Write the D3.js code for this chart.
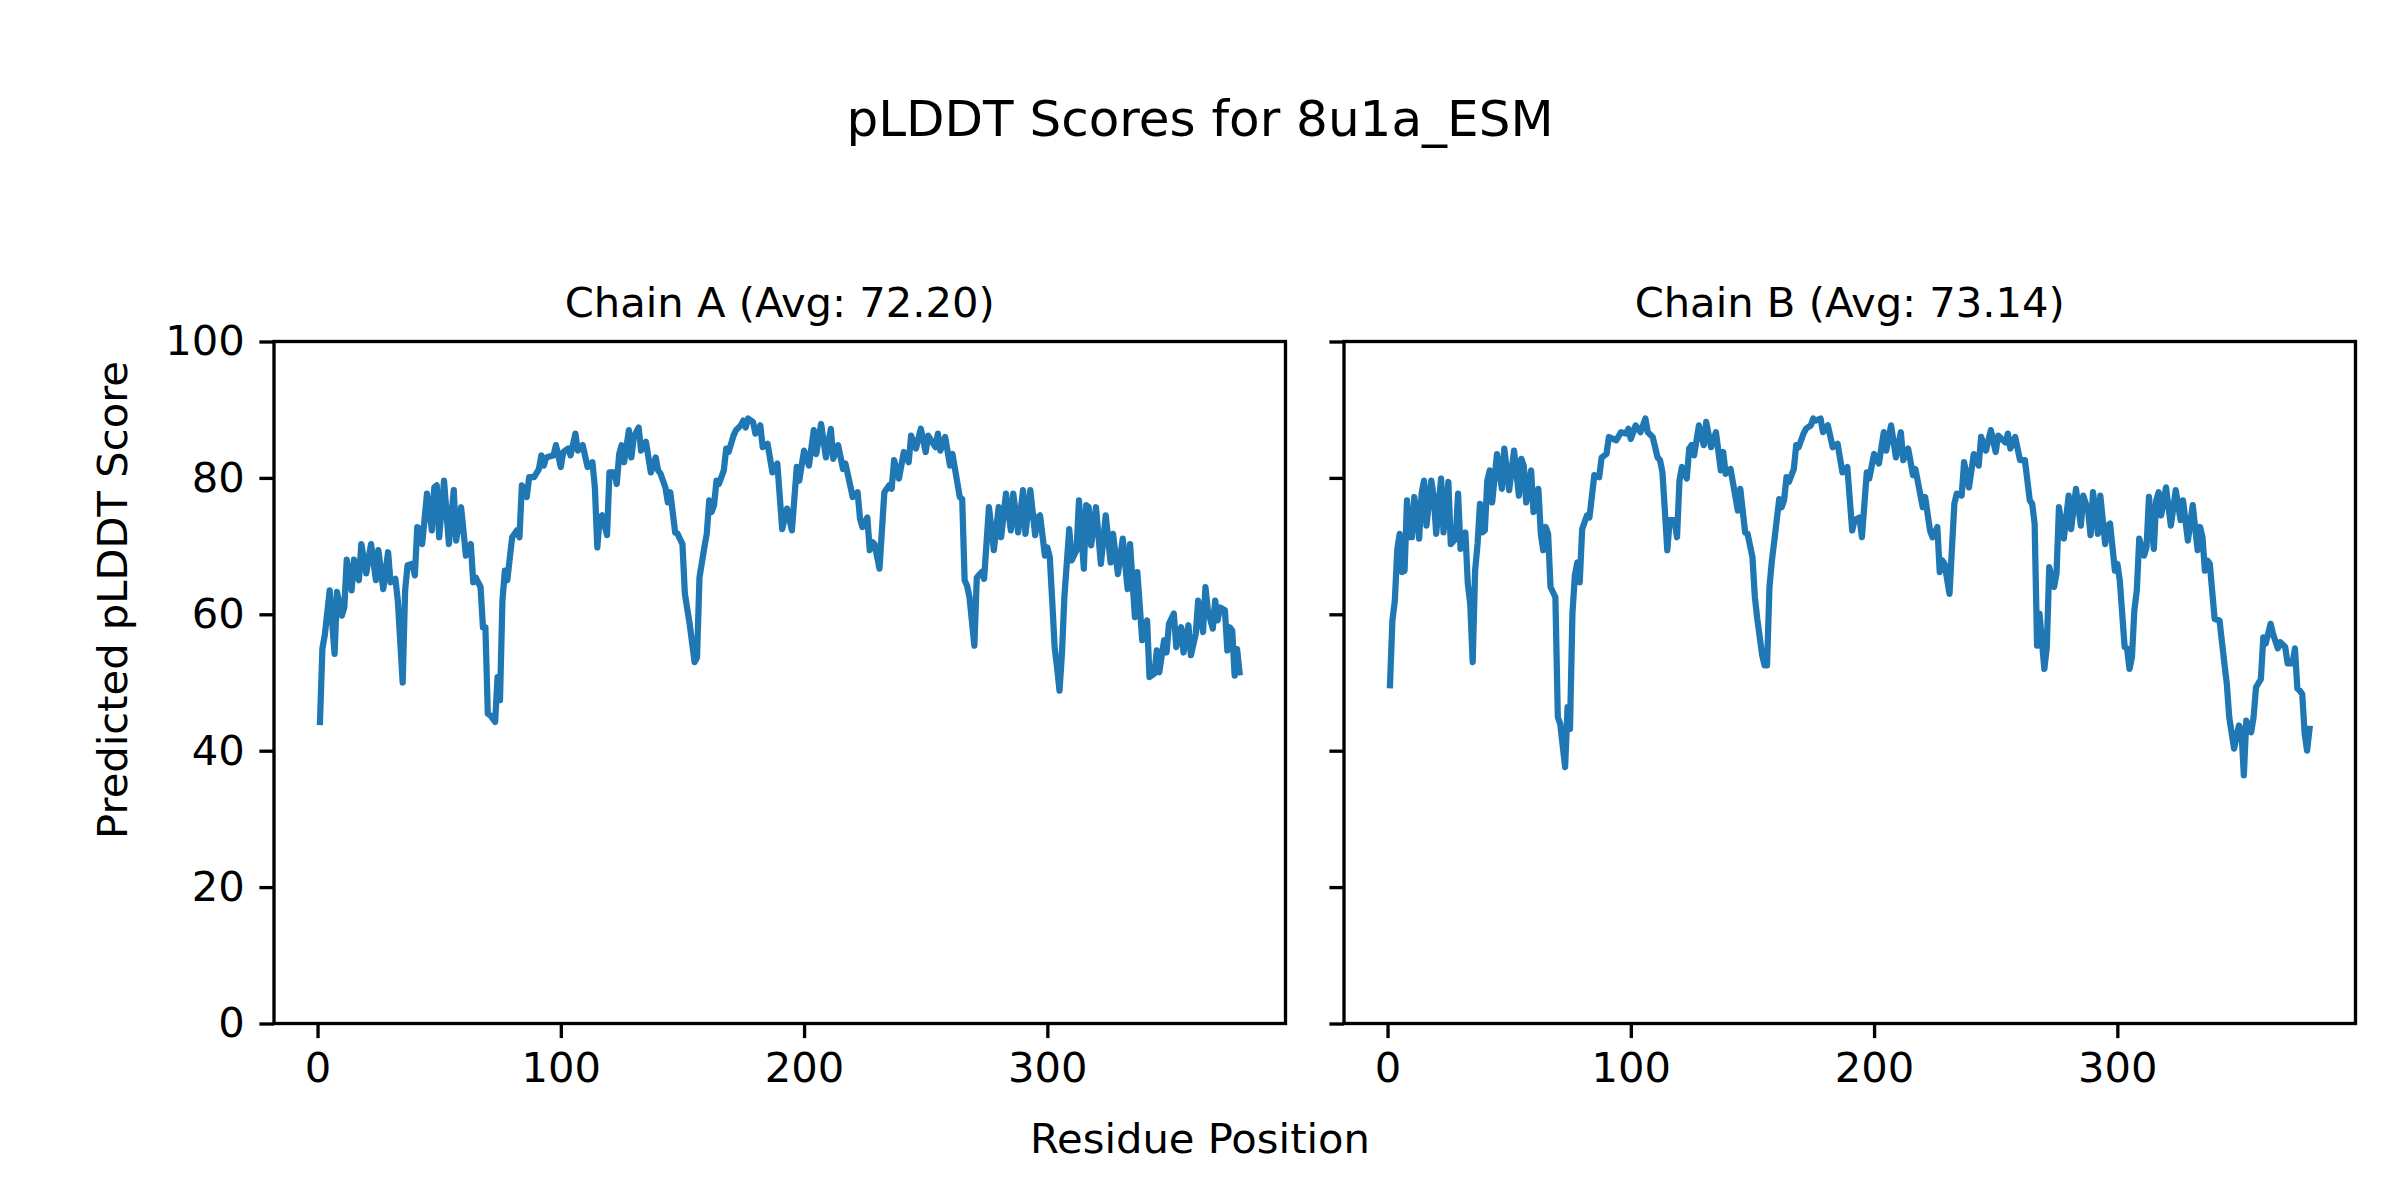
<!DOCTYPE html>
<html>
<head>
<meta charset="utf-8">
<script src="https://cdn.jsdelivr.net/npm/d3@7"></script>
<style>
  html, body { margin: 0; padding: 0; background: #ffffff; }
  svg text { font-family: "DejaVu Sans", sans-serif; fill: #000; }
</style>
</head>
<body>
<svg id="chart" width="2400" height="1200"></svg>
<script>
// ---------------- data ----------------
const figureTitle = "pLDDT Scores for 8u1a_ESM";
const chainNames = ["Chain A", "Chain B"];
const chainAverages = [72.20, 73.14];
const xLabel = "Residue Position";
const yLabel = "Predicted pLDDT Score";
const xTicks = [0, 100, 200, 300];
const yTicks = [0, 20, 40, 60, 80, 100];

// [residue, pLDDT] vertices of chain A trace
const chainA = [
[1,44.2],[2,55.0],[3,57.0],[5,63.5],[7,54.2],[8,63.3],[10,59.8],[11,61.0],[12,68.0],[14,63.5],
[15,68.0],[17,65.0],[18,70.3],[20,66.0],[22,70.3],[24,65.0],[25,69.4],[27,63.7],[29,69.1],[30,64.7],
[32,65.2],[33,62.0],[35,50.0],[36,63.5],[37,67.2],[39,67.4],[40,65.7],[41,72.8],[42,72.5],[43,70.3],
[45,77.7],[47,72.3],[48,78.6],[49,78.9],[50,71.3],[52,79.6],[54,70.3],[56,78.2],[57,70.8],[59,75.7],
[61,68.6],[63,70.3],[64,64.7],[65,65.4],[67,64.0],[68,58.1],[69,58.1],[70,45.4],[71,45.2],[73,44.2],
[74,50.8],[75,47.4],[76,62.0],[77,66.4],[78,65.0],[80,71.3],[82,72.3],[83,71.3],[84,78.9],[86,77.2],
[87,80.1],[89,80.1],[91,81.3],[92,83.3],[93,81.8],[94,83.0],[96,83.2],[97,83.3],[98,84.8],[100,81.6],
[101,83.8],[103,84.3],[104,83.3],[106,86.5],[107,84.0],[109,84.8],[111,81.6],[113,82.3],[114,78.6],[115,69.8],
[116,74.2],[117,74.5],[119,71.6],[120,80.8],[122,80.8],[123,79.1],[124,83.5],[125,84.8],[126,82.3],[128,87.0],
[129,83.0],[130,86.0],[132,87.4],[133,84.0],[135,85.3],[137,80.8],[139,83.0],[140,81.1],[141,80.6],[143,78.6],
[144,76.4],[145,77.9],[147,72.0],[148,71.8],[150,70.3],[151,63.0],[153,58.5],[155,53.0],[156,53.7],[157,65.4],
[159,69.8],[160,71.8],[161,76.7],[162,75.0],[163,76.0],[164,79.6],[165,79.1],[167,81.1],[168,84.3],[169,83.8],
[171,86.2],[172,87.0],[174,87.7],[175,88.4],[176,87.4],[177,88.7],[179,88.2],[180,86.5],[182,87.7],[183,84.5],
[185,85.0],[187,80.8],[189,82.1],[191,72.5],[193,75.5],[195,72.3],[197,81.6],[198,79.6],[200,84.0],[202,81.8],
[204,87.0],[205,83.5],[207,87.9],[209,83.0],[211,87.2],[212,82.8],[214,84.8],[216,81.3],[217,82.1],[220,77.2],
[222,77.9],[223,74.0],[224,72.8],[226,74.2],[227,69.4],[228,70.6],[229,70.3],[231,66.7],[233,77.9],[235,78.9],
[236,78.4],[237,82.6],[239,79.9],[241,83.8],[243,82.3],[244,86.2],[246,84.3],[248,87.2],[250,83.8],[251,86.2],
[254,84.5],[255,86.5],[256,84.0],[258,86.0],[260,81.8],[261,83.5],[264,77.2],[265,76.9],[266,65.0],[267,64.2],
[268,62.5],[270,55.4],[271,65.4],[273,66.2],[274,65.2],[276,75.7],[278,69.4],[280,75.7],[281,71.3],[283,77.7],
[285,72.3],[286,77.7],[288,72.0],[290,78.2],[291,71.8],[293,78.2],[295,71.6],[296,74.2],[297,74.5],[299,68.6],
[300,69.8],[301,68.4],[302,62.0],[303,55.2],[304,52.2],[305,48.8],[306,54.2],[307,62.5],[309,72.5],[310,67.9],
[312,69.4],[313,76.7],[315,66.7],[316,76.0],[317,75.7],[318,70.1],[320,75.7],[322,67.4],[324,74.5],[326,67.6],
[327,71.8],[329,65.9],[331,71.1],[333,63.7],[334,70.3],[336,59.6],[337,66.2],[339,56.2],[341,59.1],[342,50.8],
[344,51.3],[345,54.7],[346,51.5],[348,56.2],[349,54.4],[350,58.6],[352,60.1],[353,55.2],[355,58.1],[356,54.4],
[358,58.4],[359,54.0],[361,57.1],[362,62.0],[364,57.4],[365,64.0],[366,60.6],[368,57.9],[369,62.0],[370,59.1],
[371,61.0],[373,60.6],[374,54.7],[375,58.1],[376,57.6],[377,51.0],[378,54.9],[379,51.5]
];

// [residue, pLDDT] vertices of chain B trace
const chainB = [
[1,49.6],[2,59.1],[3,62.0],[4,69.5],[5,71.8],[6,66.2],[7,66.4],[8,76.7],[9,71.3],[10,71.3],
[11,77.2],[12,74.7],[13,71.1],[14,77.7],[15,79.6],[16,73.0],[18,79.6],[19,77.2],[20,71.8],[22,79.9],
[23,72.0],[25,79.4],[26,70.3],[28,71.1],[29,77.7],[30,69.6],[31,69.8],[32,72.0],[33,64.5],[34,61.5],
[35,53.0],[36,66.4],[37,70.3],[38,76.2],[39,72.0],[40,72.3],[41,79.6],[42,81.1],[43,76.4],[45,83.5],
[47,78.4],[48,84.3],[50,78.2],[52,84.0],[54,77.4],[55,82.8],[56,81.8],[57,76.4],[59,81.1],[60,75.0],
[61,75.7],[62,78.4],[63,71.8],[64,69.4],[65,72.8],[66,71.8],[67,64.0],[69,62.5],[70,44.9],[71,43.9],
[73,37.6],[74,46.4],[75,43.2],[76,60.1],[77,65.7],[78,67.6],[79,64.7],[80,72.5],[82,74.5],[83,74.2],
[85,80.4],[87,80.1],[88,83.0],[90,83.5],[91,86.0],[94,85.5],[96,86.7],[98,86.5],[99,87.2],[100,85.7],
[102,87.7],[104,86.7],[106,88.7],[107,86.7],[109,86.0],[111,83.0],[112,82.6],[113,80.8],[114,75.2],[115,69.4],
[116,73.8],[118,73.8],[119,71.3],[120,79.6],[121,81.6],[123,79.9],[124,84.3],[125,84.8],[126,83.3],[128,87.7],
[130,84.8],[131,88.2],[133,84.5],[135,86.7],[137,81.1],[138,83.8],[139,80.6],[141,81.3],[144,75.2],[145,78.4],
[147,72.0],[148,71.8],[150,68.4],[151,62.5],[152,59.3],[154,54.0],[155,52.5],[156,52.5],[157,64.0],[158,67.9],
[159,70.8],[161,76.9],[162,75.7],[163,76.7],[164,80.1],[165,79.4],[167,81.3],[168,84.8],[169,84.5],[171,86.5],
[172,87.2],[174,87.7],[175,88.7],[176,88.4],[178,88.7],[179,86.7],[181,87.7],[183,84.5],[185,85.0],[187,80.8],
[189,81.6],[191,72.3],[192,73.8],[194,74.2],[195,71.3],[197,80.8],[198,79.9],[200,83.5],[202,82.1],[204,86.7],
[205,84.0],[207,87.7],[209,83.0],[211,86.7],[212,82.6],[214,84.3],[216,80.4],[217,81.3],[220,75.7],[221,77.2],
[223,72.3],[224,71.3],[226,72.8],[227,66.2],[228,67.9],[229,67.4],[231,63.0],[233,76.2],[234,77.7],[236,77.4],
[237,82.3],[239,78.6],[241,83.5],[243,81.8],[244,86.0],[246,84.0],[248,87.0],[250,83.8],[251,86.2],[254,85.2],
[255,86.5],[256,84.3],[258,86.0],[260,82.6],[262,82.6],[264,76.7],[265,76.2],[266,73.3],[267,55.4],[268,60.1],
[270,52.0],[271,55.2],[272,66.9],[274,64.0],[275,66.0],[276,75.7],[278,71.1],[280,77.4],[281,72.5],[283,78.4],
[285,73.0],[286,77.4],[288,75.2],[289,71.6],[290,77.9],[292,71.8],[293,77.4],[295,70.3],[296,73.0],[297,73.3],
[299,66.4],[300,67.4],[301,65.0],[303,55.2],[304,55.0],[305,52.0],[306,53.7],[307,60.6],[308,63.5],[309,71.1],
[311,68.6],[312,69.8],[313,77.2],[315,69.6],[316,76.7],[317,77.9],[318,74.5],[320,78.6],[322,73.0],[324,78.2],
[326,73.8],[327,76.7],[329,70.8],[331,76.0],[333,69.4],[334,72.8],[335,71.3],[336,66.4],[337,67.9],[338,67.4],
[340,59.3],[342,59.1],[344,52.8],[345,49.8],[346,44.9],[348,40.3],[350,43.7],[351,43.0],[352,36.4],[353,44.4],
[355,42.7],[356,44.9],[357,49.3],[359,50.5],[360,56.6],[361,55.7],[363,58.6],[364,57.1],[366,55.0],[367,55.9],
[369,55.2],[370,52.8],[372,52.8],[373,55.0],[374,49.1],[375,48.8],[376,48.3],[377,42.5],[378,40.0],[379,43.2]
];

const chains = [chainA, chainB];

// ---------------- layout ----------------
const svg = d3.select("#chart");
svg.append("rect").attr("width", 2400).attr("height", 1200).attr("fill", "#ffffff");

const axLeft = [274, 1344];
const axTop = 341.5;
const axW = 1011.5;
const axH = 682;
const tickLen = 14.6;
const tickPad = 14.6;
const spineW = 3.33;
const fontTick = 41.67;
const lineColor = "#1f77b4";

// shared y scale
const y = d3.scaleLinear().domain([0, 100]).range([axH, 0]);

chains.forEach((data, i) => {
  const xs = data.map(d => d[0]);
  const xmin = d3.min(xs), xmax = d3.max(xs);
  const m = (xmax - xmin) * 0.05;
  const x = d3.scaleLinear().domain([xmin - m, xmax + m]).range([0, axW]);

  const g = svg.append("g").attr("transform", `translate(${axLeft[i]},${axTop})`);

  // line
  const line = d3.line().x(d => x(d[0])).y(d => y(d[1]));
  g.append("path")
    .datum(data)
    .attr("d", line)
    .attr("fill", "none")
    .attr("stroke", lineColor)
    .attr("stroke-width", 6.25)
    .attr("stroke-linejoin", "round")
    .attr("stroke-linecap", "square");

  // x axis
  const xAxis = g.append("g")
    .attr("transform", `translate(0,${axH})`)
    .call(d3.axisBottom(x).tickValues(xTicks).tickSize(tickLen).tickPadding(tickPad).tickFormat(d3.format("d")));
  xAxis.select(".domain").remove();
  xAxis.selectAll(".tick line").attr("stroke", "#000").attr("stroke-width", spineW);
  xAxis.selectAll(".tick text").attr("font-size", fontTick).attr("font-family", "DejaVu Sans").attr("fill", "#000");

  // y axis
  const yAxis = g.append("g")
    .call(d3.axisLeft(y).tickValues(yTicks).tickSize(tickLen).tickPadding(tickPad)
      .tickFormat(i === 0 ? d3.format("d") : () => ""));
  yAxis.select(".domain").remove();
  yAxis.selectAll(".tick line").attr("stroke", "#000").attr("stroke-width", spineW);
  yAxis.selectAll(".tick text").attr("font-size", fontTick).attr("font-family", "DejaVu Sans").attr("fill", "#000");

  // spines
  g.append("rect")
    .attr("x", 0).attr("y", 0).attr("width", axW).attr("height", axH)
    .attr("fill", "none").attr("stroke", "#000").attr("stroke-width", spineW);

  // subplot title
  g.append("text")
    .attr("x", axW / 2).attr("y", -25)
    .attr("text-anchor", "middle")
    .attr("font-size", 41.67)
    .text(`${chainNames[i]} (Avg: ${chainAverages[i].toFixed(2)})`);
});

// figure title
svg.append("text")
  .attr("x", 1200).attr("y", 136)
  .attr("text-anchor", "middle")
  .attr("font-size", 50)
  .text(figureTitle);

// shared x label
svg.append("text")
  .attr("x", 1200).attr("y", 1153)
  .attr("text-anchor", "middle")
  .attr("font-size", 41.67)
  .text(xLabel);

// shared y label
svg.append("text")
  .attr("transform", "translate(127,600) rotate(-90)")
  .attr("text-anchor", "middle")
  .attr("font-size", 41.67)
  .text(yLabel);
</script>
</body>
</html>
